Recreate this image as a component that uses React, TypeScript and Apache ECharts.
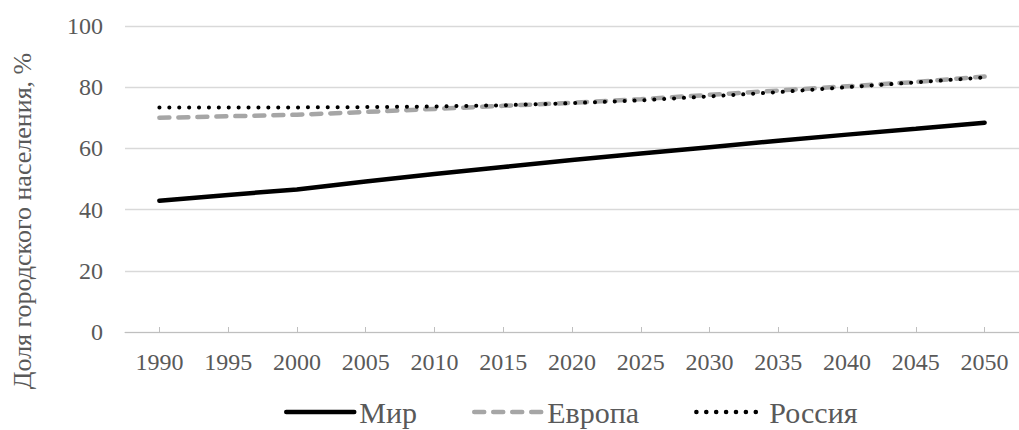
import React, { useEffect, useRef } from "react";
import * as echarts from "echarts";

const years = ["1990", "1995", "2000", "2005", "2010", "2015", "2020", "2025", "2030", "2035", "2040", "2045", "2050"];
const world = [42.9, 44.8, 46.6, 49.2, 51.6, 53.9, 56.2, 58.3, 60.4, 62.5, 64.5, 66.4, 68.4];
const europe = [70.0, 70.5, 71.0, 71.9, 72.9, 73.9, 74.9, 76.1, 77.5, 78.9, 80.3, 81.7, 83.5];
const russia = [73.4, 73.4, 73.4, 73.5, 73.7, 74.1, 74.8, 75.7, 77.0, 78.4, 80.0, 81.6, 83.2];
const seriesNames = ["Мир", "Европа", "Россия"];
const yAxisTitle = "Доля городского населения, %";

const FONT = "Liberation Serif";
const TXT = "#595959";

export default function App() {
  const ref = useRef<HTMLDivElement>(null);
  useEffect(() => {
    if (!ref.current) return;
    const chart = echarts.init(ref.current, null, { renderer: "svg" });
    chart.setOption({
      animation: false,
      backgroundColor: "#ffffff",
      textStyle: { fontFamily: FONT },
      grid: { left: 125, right: -8, top: 26, bottom: 98, containLabel: false },
      legend: {
        left: 279,
        top: 392,
        padding: 5,
        itemWidth: 68,
        itemHeight: 20,
        itemGap: 55,
        itemStyle: { opacity: 0 },
        lineStyle: { width: 4.5 },
        textStyle: { fontFamily: FONT, fontSize: 30, color: TXT },
        data: seriesNames,
      },
      graphic: [
        {
          type: "text",
          x: 22,
          y: 221,
          rotation: Math.PI / 2,
          style: {
            text: yAxisTitle,
            fontFamily: FONT,
            fontSize: 26,
            fill: TXT,
            align: "center",
            verticalAlign: "middle",
          },
        },
      ],
      xAxis: {
        type: "category",
        data: years,
        boundaryGap: true,
        axisLine: { show: true, lineStyle: { color: "#bfbfbf", width: 1 } },
        axisTick: { show: true, alignWithLabel: true, inside: true, length: 5, lineStyle: { color: "#bfbfbf" } },
        axisLabel: { color: TXT, fontFamily: FONT, fontSize: 24, margin: 18 },
        splitLine: { show: false },
      },
      yAxis: {
        type: "value",
        min: 0,
        max: 100,
        interval: 20,
        axisLine: { show: false },
        axisTick: { show: false },
        axisLabel: { color: TXT, fontFamily: FONT, fontSize: 24, margin: 22 },
        splitLine: { lineStyle: { color: "#d9d9d9", width: 1.3 } },
      },
      series: [
        {
          name: seriesNames[0],
          type: "line",
          data: world,
          symbol: "none",
          itemStyle: { color: "#000000" },
          lineStyle: { color: "#000000", width: 4.5, cap: "round" },
          z: 3,
        },
        {
          name: seriesNames[1],
          type: "line",
          data: europe,
          symbol: "none",
          itemStyle: { color: "#a6a6a6" },
          lineStyle: { color: "#a6a6a6", width: 4.5, type: [10, 9], cap: "round" },
          z: 2,
        },
        {
          name: seriesNames[2],
          type: "line",
          data: russia,
          symbol: "none",
          itemStyle: { color: "#000000" },
          lineStyle: { color: "#000000", width: 4, type: [0.1, 9.8], cap: "round" },
          z: 4,
        },
      ],
    });
    return () => chart.dispose();
  }, []);
  return (
    <div
      ref={ref}
      style={{ position: "fixed", left: 0, top: 0, width: 1019, height: 430, background: "#fff" }}
    />
  );
}
